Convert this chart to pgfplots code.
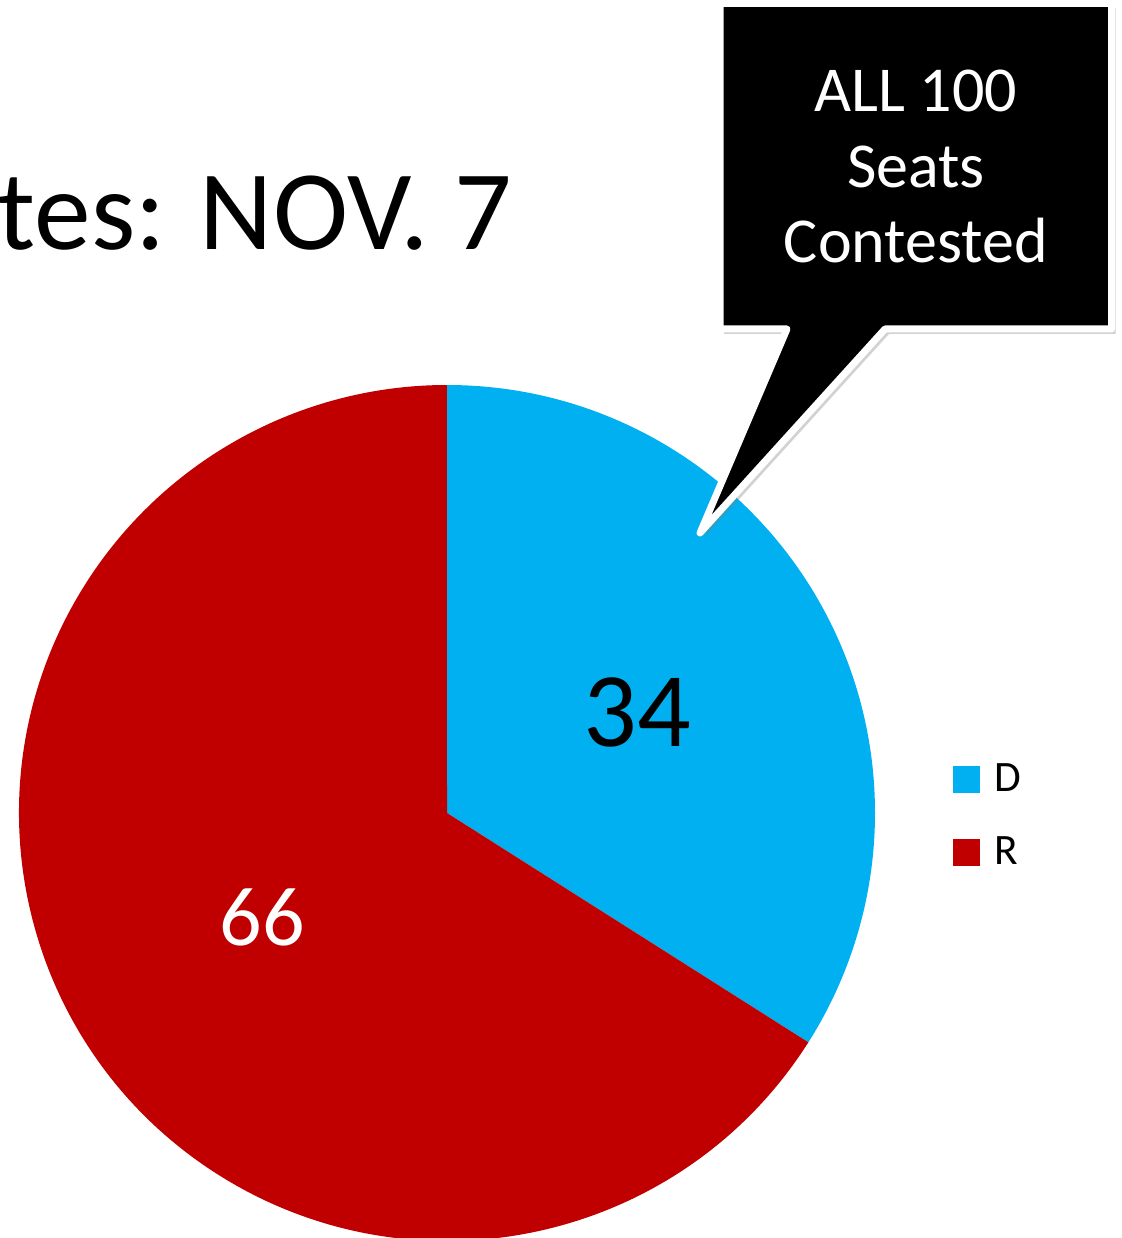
\documentclass[border=0pt]{standalone}
\usepackage{pgfplots}
\pgfplotsset{compat=1.18}
\usepackage{pgfplotstable}
\usepackage{fontspec}
\setmainfont{Carlito}
\usetikzlibrary{shadows}
\definecolor{dblue}{HTML}{00B0F0}
\definecolor{rred}{HTML}{C00000}

\pgfplotstableread{
party seats
D 34
R 66
}\seatstable

\begin{document}
\begin{tikzpicture}
\pgfplotstablegetelem{0}{seats}\of\seatstable
\pgfmathsetmacro{\Dv}{\pgfplotsretval}
\pgfplotstablegetelem{1}{seats}\of\seatstable
\pgfmathsetmacro{\Rv}{\pgfplotsretval}
\pgfmathsetmacro{\Tot}{\Dv+\Rv}
\pgfmathsetmacro{\Dend}{90-360*(\Dv/\Tot)}
\pgfmathsetmacro{\Rend}{\Dend-360*(\Rv/\Tot)}
\pgfmathsetmacro{\Dx}{cos(\Dend)}
\pgfmathsetmacro{\Dy}{sin(\Dend)}
\useasboundingbox (0,0) rectangle (561pt,619pt);
\clip (0,0) rectangle (561pt,619pt);
\fill[white] (0,0) rectangle (561pt,619pt);
\begin{axis}[
  at={(223.5pt,212.5pt)}, anchor=center,
  scale only axis, width=428pt, height=428pt,
  xmin=-1, xmax=1, ymin=-1, ymax=1,
  hide axis, clip=false,
  legend style={at={(axis cs:1.168,-0.007)}, anchor=west, draw=none, fill=none,
    font=\fontsize{21.7pt}{26pt}\selectfont, row sep=17pt,
    /tikz/every odd column/.append style={column sep=5pt}},
  legend cell align=left,
  legend image code/.code={\fill[#1] (0pt,-6.75pt) rectangle (13.5pt,6.75pt);},
]
\fill[dblue] (axis cs:0,0) -- (axis cs:0,1) arc[start angle=90, end angle=\Dend, radius=214pt] -- cycle;
\fill[rred] (axis cs:0,0) -- (axis cs:\Dx,\Dy) arc[start angle=\Dend, end angle=\Rend, radius=214pt] -- cycle;
\addlegendimage{fill=dblue, draw=none}
\addlegendentry{D}
\addlegendimage{fill=rred, draw=none}
\addlegendentry{R}
\node[black, font=\fontsize{53pt}{60pt}\selectfont] at (axis cs:0.444,0.234) {34};
\node[white, font=\fontsize{42pt}{50pt}\selectfont] at (axis cs:-0.432,-0.245) {66};
\end{axis}
% title (partly outside the frame, as in the reference)
\node[anchor=base east, inner sep=0pt, font=\fontsize{56.7pt}{68pt}\selectfont] at (256pt,494pt) {tes: NOV. 7};
% callout
\path[fill=black, draw=white, line width=3.5pt, line join=round,
  drop shadow={opacity=0.35, shadow xshift=2pt, shadow yshift=-2.5pt}]
  (360pt,617.25pt) -- (555.75pt,617.25pt) -- (555.75pt,454.5pt) -- (442.5pt,454.5pt)
  -- (350pt,352.5pt) -- (393.5pt,454.5pt) -- (360pt,454.5pt) -- cycle;
\begin{scope}[every node/.style={anchor=base, inner sep=0pt, text=white, font=\fontsize{32pt}{38pt}\selectfont}]
\node at (458pt,563pt) {ALL 100};
\node at (458pt,525pt) {Seats};
\node at (458pt,487.5pt) {Contested};
\end{scope}
\end{tikzpicture}
\end{document}
